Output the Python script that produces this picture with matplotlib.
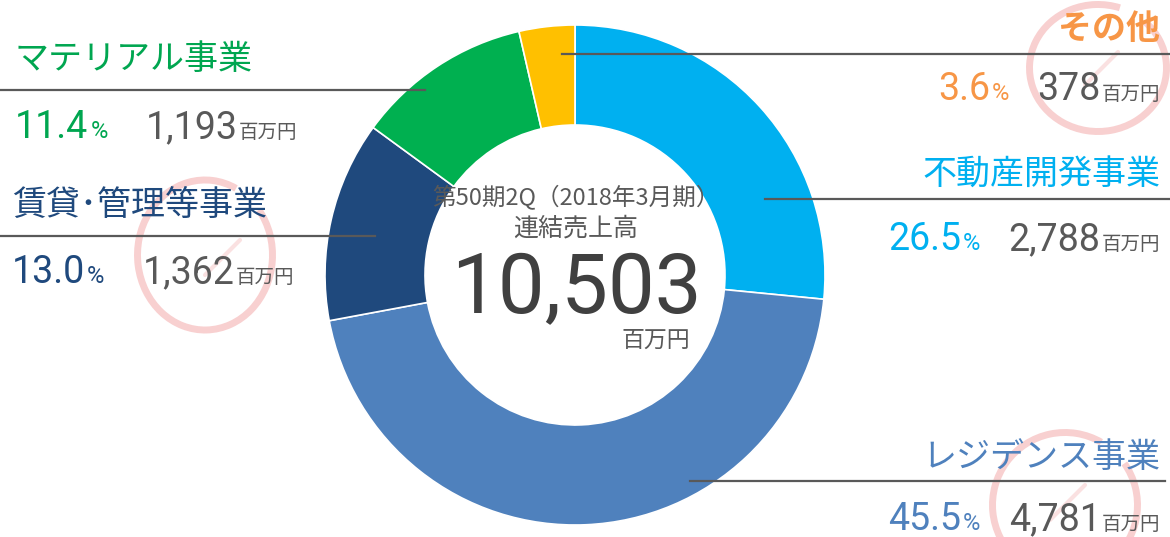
import matplotlib
matplotlib.use("Agg")
import matplotlib.pyplot as plt
from matplotlib.patches import Arc

plt.rcParams['font.family'] = ['Noto Sans CJK JP', 'DejaVu Sans']

# data (clockwise from 12 o'clock)
segments = ['不動産開発事業', 'レジデンス事業', '賃貸･管理等事業', 'マテリアル事業', 'その他']
sales = [2788, 4781, 1362, 1193, 378]          # 百万円
shares = ['26.5', '45.5', '13.0', '11.4', '3.6']  # %
total_label = '10,503'
period_label = '第50期2Q（2018年3月期）'
total_title = '連結売上高'
unit = '百万円'

wedge_colors = ['#00B0F0', '#4F81BD', '#1F497D', '#00B050', '#FFC000']
text_colors = ['#00B0F0', '#4F81BD', '#1F497D', '#00A650', '#F79646']
GRAY = '#595959'

W, H = 1170, 537
fig = plt.figure(figsize=(W / 100, H / 100), dpi=100)
ax = fig.add_axes([0, 0, 1, 1])


def Y(y):
    # pixel row (from top) -> data y
    return H - y


cx, cy, R = 575, 275, 250
ax.pie(sales, colors=wedge_colors, startangle=90, counterclock=False,
       center=(cx, Y(cy)), radius=R, frame=True,
       wedgeprops=dict(width=100, edgecolor='white', linewidth=1.2))
ax.set_xlim(0, W)
ax.set_ylim(0, H)
ax.set_aspect('auto')
ax.axis('off')

# pink hand-drawn style circles
pink = '#EE8A8A'
for (ex, ey, ew, eh, t1, t2) in [(205, 255, 135, 150, 65, 400),
                                  (1098, 68, 137, 127, 70, 405),
                                  (1065, 505, 145, 145, 60, 395)]:
    ax.add_patch(Arc((ex, Y(ey)), ew, eh, theta1=t1, theta2=t2,
                     color=pink, lw=5, alpha=0.4, zorder=1))
for (x0, y0, x1, y1) in [(205, 275, 240, 240), (1085, 85, 1118, 52), (1050, 520, 1085, 485)]:
    ax.plot([x0, x1], [Y(y0), Y(y1)], color=pink, lw=3, alpha=0.25,
            solid_capstyle='round', zorder=1)

# center text
ax.text(576, Y(198), period_label, ha='center', va='center', fontsize=17, color=GRAY)
ax.text(576, Y(229), total_title, ha='center', va='center', fontsize=18, color=GRAY)
ax.text(576, Y(313), total_label, ha='center', va='baseline', fontsize=60,
        color='#404040', family='Roboto')
ax.text(690, Y(340), unit, ha='right', va='center', fontsize=16.5, color=GRAY)

fig.canvas.draw()
renderer = fig.canvas.get_renderer()


def width(t):
    return t.get_window_extent(renderer).width


def value_row(i, x, base, align):
    col = text_colors[i]
    if align == 'left':
        t = ax.text(x, Y(base), shares[i], fontsize=27, color=col, family='Roboto', va='baseline')
        x += width(t) + 2
        t = ax.text(x, Y(base), '%', fontsize=17, color=col, family='Roboto', va='baseline')
        x += width(t) + 38
        t = ax.text(x, Y(base), f'{sales[i]:,}', fontsize=27, color=GRAY, family='Roboto', va='baseline')
        x += width(t) + 1
        ax.text(x, Y(base), unit, fontsize=14, color=GRAY, va='baseline')
    else:
        t = ax.text(x, Y(base), unit, fontsize=14, color=GRAY, va='baseline', ha='right')
        x -= width(t) + 1
        t = ax.text(x, Y(base), f'{sales[i]:,}', fontsize=27, color=GRAY, family='Roboto',
                    va='baseline', ha='right')
        x -= width(t) + 28
        t = ax.text(x, Y(base), '%', fontsize=17, color=col, family='Roboto', va='baseline', ha='right')
        x -= width(t) + 2
        ax.text(x, Y(base), shares[i], fontsize=27, color=col, family='Roboto', va='baseline', ha='right')


# (segment index, title x, title center y, line y, line x0, line x1, value baseline, side)
labels = [
    (3, 15, 60, 90, 0, 425, 138, 'left'),
    (2, 12, 205, 236, 0, 375, 283, 'left'),
    (4, 1160, 29, 54, 562, W, 100, 'right'),
    (0, 1160, 175, 199, 765, W, 250, 'right'),
    (1, 1160, 457, 481, 690, 1165, 530, 'right'),
]
for i, tx, ty, ly, lx0, lx1, vb, side in labels:
    ax.plot([lx0, lx1], [Y(ly), Y(ly)], color=GRAY, lw=1.6, zorder=3)
    ax.text(tx, Y(ty), segments[i], ha=side, va='center', fontsize=24.5,
            color=text_colors[i], fontweight='bold' if i == 4 else 'normal')
    value_row(i, tx, vb, side)

fig.savefig('out.png', dpi=100)
